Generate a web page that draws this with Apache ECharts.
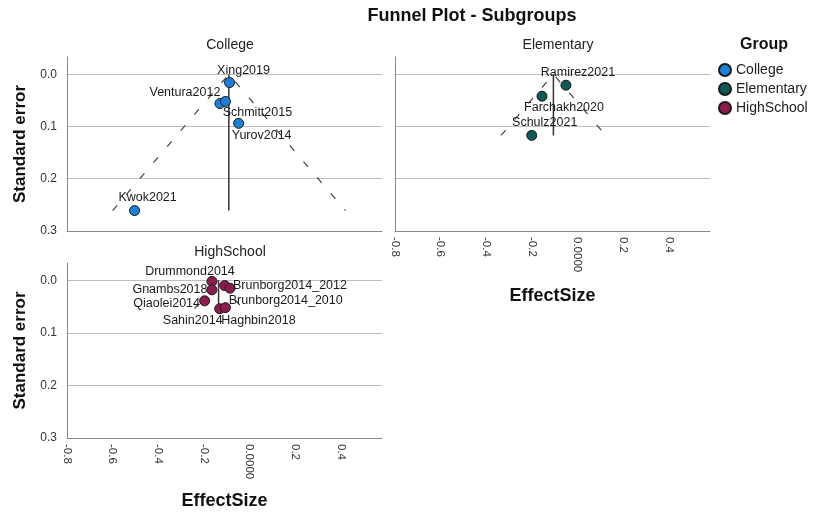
<!DOCTYPE html>
<html>
<head>
<meta charset="utf-8">
<script src="https://cdn.jsdelivr.net/npm/echarts@6/dist/echarts.min.js"></script>
<style>html,body{margin:0;padding:0;background:#fff;}#c{width:816px;height:514px;}</style>
</head>
<body>
<div id="c"></div>
<script>
// ---- Data ----
const groups = ['College', 'Elementary', 'HighSchool'];
const collegeStudies = ['Xing2019', 'Ventura2012', 'Schmitt2015', 'Yurov2014', 'Kwok2021'];
const collegeEffect = [-0.088, -0.130, -0.106, -0.048, -0.504];
const collegeSE = [0.016, 0.056, 0.052, 0.094, 0.261];
const elementaryStudies = ['Ramirez2021', 'Farchakh2020', 'Schulz2021'];
const elementaryEffect = [-0.051, -0.156, -0.201];
const elementarySE = [0.021, 0.042, 0.117];
const highStudies = ['Drummond2014', 'Gnambs2018', 'Brunborg2014_2010', 'Brunborg2014_2012', 'Qiaolei2014', 'Sahin2014', 'Haghbin2018'];
const highEffect = [-0.165, -0.165, -0.109, -0.086, -0.197, -0.131, -0.106];
const highSE = [0.002, 0.018, 0.010, 0.015, 0.039, 0.054, 0.052];
// pooled estimate, max standard error, funnel ends (left, right) per group
const pooledEffect = [-0.091, -0.106, -0.136];
const maxSE = [0.261, 0.117, 0.054];
const funnelLeft = [-0.600, -0.335, -0.242];
const funnelRight = [0.420, 0.123, -0.030];
const yTicks = [0, 0.1, 0.2, 0.3];
const xTicks = [-0.8, -0.6, -0.4, -0.2, 0, 0.2, 0.4];

// ---- Styles ----
const colors = ['#1a80d8', '#0d5956', '#8d1b4e'];
const labelOffsets = [
  [[14, -12], [-35, -11], [32, 11], [23, 12], [13, -13]],
  [[12, -13], [22, 11], [13, -13]],
  [[-22, -10], [-42, 0], [61, 15], [60, -3], [-38, 3], [-27, 12], [33, 13]]
];
const FONT = 'Liberation Sans, Arial, sans-serif';

const studyArr = [collegeStudies, elementaryStudies, highStudies];
const effArr = [collegeEffect, elementaryEffect, highEffect];
const seArr = [collegeSE, elementarySE, highSE];

const grids = [
  {left: 67, top: 57, width: 315, height: 174},
  {left: 395, top: 57, width: 315, height: 174},
  {left: 67, top: 263, width: 315, height: 175}
];

function yAxis(i, showLabels) {
  return {
    type: 'value', gridIndex: i, inverse: true, min: -0.033, max: 0.3,
    name: showLabels ? 'Standard error' : '', nameLocation: 'middle', nameGap: 38,
    nameTextStyle: {fontFamily: FONT, fontSize: 17, fontWeight: 'bold', color: '#111'},
    axisLine: {show: true, onZero: false, lineStyle: {color: '#888', width: 1}},
    axisTick: {show: false, customValues: yTicks},
    axisLabel: {show: showLabels, customValues: yTicks, margin: 10, fontFamily: FONT, fontSize: 12, color: '#333',
      formatter: v => v.toFixed(1)},
    splitLine: {show: true, lineStyle: {color: '#bdbdbd', width: 1}}
  };
}
function xAxis(i, showLabels, gap) {
  return {
    type: 'value', gridIndex: i, min: -0.8, max: 0.58,
    name: showLabels ? 'EffectSize' : '', nameLocation: 'middle', nameGap: gap || 56,
    nameTextStyle: {fontFamily: FONT, fontSize: 18, fontWeight: 'bold', color: '#111'},
    axisLine: {show: true, onZero: false, lineStyle: {color: '#888', width: 1}},
    axisTick: {show: false, customValues: xTicks},
    axisLabel: {show: showLabels, customValues: xTicks, rotate: -90, margin: 6, fontFamily: FONT, fontSize: 11.5, color: '#333',
      formatter: v => (Math.abs(v) < 1e-9 ? '0.0000' : v.toFixed(1))},
    splitLine: {show: false}
  };
}

const series = [];
groups.forEach((g, i) => {
  series.push({
    type: 'line', xAxisIndex: i, yAxisIndex: i, silent: true, symbol: 'none', z: 2,
    lineStyle: {color: '#333', width: 1.5},
    data: [[pooledEffect[i], 0], [pooledEffect[i], maxSE[i]]]
  });
  series.push({
    type: 'line', xAxisIndex: i, yAxisIndex: i, silent: true, symbol: 'none', z: 2,
    lineStyle: {color: '#444', width: 1.2, type: [7, 14]},
    data: [[funnelLeft[i], maxSE[i]], [pooledEffect[i], 0], [funnelRight[i], maxSE[i]]]
  });
  series.push({
    name: g, type: 'scatter', xAxisIndex: i, yAxisIndex: i, z: 5,
    symbol: 'circle', symbolSize: 10,
    itemStyle: {color: colors[i], borderColor: '#1a1a1a', borderWidth: 1, opacity: 1},
    label: {show: true, position: 'inside', formatter: p => p.name, fontFamily: FONT, fontSize: 12.5, color: '#1a1a1a'},
    labelLayout: p => ({dx: labelOffsets[i][p.dataIndex][0], dy: labelOffsets[i][p.dataIndex][1], hideOverlap: false}),
    data: studyArr[i].map((n, k) => ({name: n, value: [effArr[i][k], seArr[i][k]]}))
  });
});

const chart = echarts.init(document.getElementById('c'), null, {renderer: 'canvas'});
chart.setOption({
  animation: false,
  backgroundColor: '#fff',
  title: [
    {text: 'Funnel Plot - Subgroups', left: 467, top: 2, textAlign: 'center',
      textStyle: {fontFamily: FONT, fontSize: 18, fontWeight: 'bold', color: '#111'}},
    {text: 'College', left: 225, top: 33, textAlign: 'center',
      textStyle: {fontFamily: FONT, fontSize: 14, fontWeight: 'normal', color: '#222'}},
    {text: 'Elementary', left: 553, top: 33, textAlign: 'center',
      textStyle: {fontFamily: FONT, fontSize: 14, fontWeight: 'normal', color: '#222'}},
    {text: 'HighSchool', left: 225, top: 240, textAlign: 'center',
      textStyle: {fontFamily: FONT, fontSize: 14, fontWeight: 'normal', color: '#222'}},
    {text: 'Group', left: 759, top: 32, textAlign: 'center',
      textStyle: {fontFamily: FONT, fontSize: 16, fontWeight: 'bold', color: '#111'}}
  ],
  legend: {
    data: groups, orient: 'vertical', left: 713, top: 58, itemGap: 5, itemWidth: 12, itemHeight: 12,
    icon: 'circle', textStyle: {fontFamily: FONT, fontSize: 14, color: '#222'}
  },
  grid: grids,
  xAxis: [xAxis(0, false), xAxis(1, true, 56), xAxis(2, true, 54)],
  yAxis: [yAxis(0, true), yAxis(1, false), yAxis(2, true)],
  series: series
});
</script>
</body>
</html>
